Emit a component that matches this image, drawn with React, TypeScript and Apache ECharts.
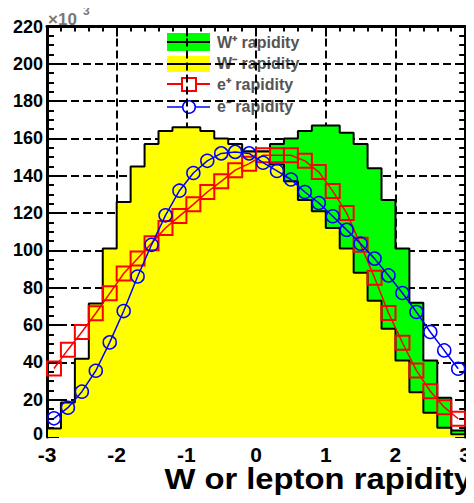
import React, { useEffect, useRef } from "react";
import * as echarts from "echarts";

// bin edges and centres of the rapidity histograms (bin width 0.2)
const binEdges = [
  -3, -2.8, -2.6, -2.4, -2.2, -2, -1.8, -1.6, -1.4, -1.2, -1, -0.8, -0.6, -0.4, -0.2, 0,
  0.2, 0.4, 0.6, 0.8, 1, 1.2, 1.4, 1.6, 1.8, 2, 2.2, 2.4, 2.6, 2.8, 3,
];
const binCenters = [
  -2.9, -2.7, -2.5, -2.3, -2.1, -1.9, -1.7, -1.5, -1.3, -1.1, -0.9, -0.7, -0.5, -0.3, -0.1,
  0.1, 0.3, 0.5, 0.7, 0.9, 1.1, 1.3, 1.5, 1.7, 1.9, 2.1, 2.3, 2.5, 2.7, 2.9,
];

// values in units of 10^3
const wPlus = [
  1.5, 5, 13, 24, 41, 58, 73, 88, 101, 112, 121, 127, 137, 146, 153,
  153, 157, 160, 164, 167, 167, 163, 157, 144, 127, 101, 72, 41, 21, 3.5,
];
const wMinus = [
  4.6, 18.5, 42, 71.6, 101, 126, 145, 157, 164, 166, 166, 164, 160, 157, 153,
  153, 146, 137, 127, 121, 112, 101, 88, 73, 58, 41, 24, 13, 5, 1.5,
];
const ePlus = [
  36.7, 46.8, 56.3, 66.3, 77, 87.6, 95.7, 103.8, 112, 118.4, 124.7, 131.3, 137, 143, 146.5,
  151, 151, 151, 148, 142, 131.8, 120, 103, 85.4, 66.5, 50.5, 35.7, 24.5, 16, 9.8,
];
const eMinus = [
  10, 15.7, 24.3, 35.5, 50.7, 67.5, 86, 103, 118.8, 132, 141.5, 148, 152, 152.8, 152,
  147, 142.6, 138, 131.3, 125.4, 118.3, 111, 103.6, 95.6, 86.6, 77.2, 67, 56.3, 46.4, 36.6,
];

const xTickMin = -3;
const xTickMax = 3;
const yTickMin = 0;
const yTickMax = 220;

const FONT = "'Liberation Sans', Arial, Helvetica, sans-serif";
const GREEN = "#00ff00";
const YELLOW = "#ffff00";
const RED = "#ff0000";
const BLUE = "#0000ff";

function stepPoints(vals: number[]) {
  const pts: number[][] = [[binEdges[0], 0]];
  vals.forEach((v, i) => {
    pts.push([binEdges[i], v]);
    pts.push([binEdges[i + 1], v]);
  });
  pts.push([binEdges[binEdges.length - 1], 0]);
  return pts;
}

function pointsOf(vals: number[]) {
  return vals.map((v, i) => [binCenters[i], v]);
}

export default function App() {
  const ref = useRef<HTMLDivElement>(null);

  useEffect(() => {
    if (!ref.current) return;
    const chart = echarts.init(ref.current, null, { renderer: "svg" });

    const dash = { color: "#000", width: 2, type: [8, 4] as any };
    const tickStyle = { color: "#000", width: 2 };

    const legendX = 167;
    const legendW = 43;
    const textX = 217;
    const legendText = (text: string, y: number) => ({
      type: "text",
      x: textX,
      y,
      style: {
        text,
        fontFamily: FONT,
        fontWeight: "bold",
        fontSize: 16,
        fill: "#555",
        verticalAlign: "middle",
        align: "left",
      },
    });

    const option: any = {
      animation: false,
      backgroundColor: "#fff",
      grid: { left: 47, right: 2, top: 26.5, bottom: 66, containLabel: false },
      xAxis: [
        {
          type: "value",
          position: "bottom",
          min: xTickMin,
          max: xTickMax,
          interval: 1,
          axisLine: { show: false, onZero: false },
          axisTick: { show: false },
          axisLabel: {
            fontFamily: FONT,
            fontWeight: "bold",
            fontSize: 21,
            color: "#000",
            margin: 7,
          },
          splitLine: { show: true, showMinLine: false, showMaxLine: false, lineStyle: dash },
        },
        {
          type: "value",
          position: "top",
          min: xTickMin,
          max: xTickMax,
          interval: 1,
          axisLine: { show: true, onZero: false, lineStyle: { color: "#000", width: 3 } },
          axisTick: { show: true, inside: true, length: 10, lineStyle: tickStyle },
          minorTick: { show: true, splitNumber: 5, length: 5, lineStyle: tickStyle },
          axisLabel: { show: false },
          splitLine: { show: false },
        },
      ],
      yAxis: [
        {
          type: "value",
          position: "left",
          min: yTickMin,
          max: yTickMax,
          interval: 20,
          axisLine: { show: true, onZero: false, lineStyle: { color: "#000", width: 3 } },
          axisTick: { show: true, inside: true, length: 12, lineStyle: tickStyle },
          minorTick: { show: true, splitNumber: 4, length: 7, lineStyle: tickStyle },
          axisLabel: {
            fontFamily: FONT,
            fontWeight: "bold",
            fontSize: 18,
            color: "#000",
            margin: 4,
            formatter: (v: number) => (v === 0 ? "{z|0}" : String(v)),
            rich: {
              z: {
                fontFamily: FONT,
                fontWeight: "bold",
                fontSize: 18,
                color: "#000",
                padding: [0, 0, 6, 0],
              },
            },
          },
          splitLine: { show: true, showMinLine: false, showMaxLine: false, lineStyle: dash },
        },
        {
          type: "value",
          position: "right",
          min: yTickMin,
          max: yTickMax,
          interval: 20,
          axisLine: { show: true, onZero: false, lineStyle: { color: "#000", width: 3 } },
          axisTick: { show: true, inside: true, length: 10, lineStyle: tickStyle },
          minorTick: { show: true, splitNumber: 4, length: 6, lineStyle: tickStyle },
          axisLabel: { show: false },
          splitLine: { show: false },
        },
      ],
      series: [
        {
          name: "W+ rapidity",
          type: "line",
          xAxisIndex: 0,
          yAxisIndex: 0,
          data: stepPoints(wPlus),
          symbol: "none",
          lineStyle: { color: "#000", width: 2 },
          areaStyle: { color: GREEN, opacity: 1 },
          z: 2,
        },
        {
          name: "W- rapidity",
          type: "line",
          xAxisIndex: 0,
          yAxisIndex: 0,
          data: stepPoints(wMinus),
          symbol: "none",
          lineStyle: { color: "#000", width: 2 },
          areaStyle: { color: YELLOW, opacity: 1 },
          z: 3,
        },
        {
          name: "e+ rapidity",
          type: "line",
          xAxisIndex: 0,
          yAxisIndex: 0,
          data: pointsOf(ePlus),
          symbol: "rect",
          symbolSize: 14,
          showAllSymbol: true,
          lineStyle: { color: RED, width: 1.5 },
          itemStyle: { color: "rgba(0,0,0,0)", borderColor: RED, borderWidth: 2 },
          z: 4,
        },
        {
          name: "e- rapidity",
          type: "line",
          xAxisIndex: 0,
          yAxisIndex: 0,
          data: pointsOf(eMinus),
          symbol: "circle",
          symbolSize: 13,
          showAllSymbol: true,
          lineStyle: { color: BLUE, width: 1.5 },
          itemStyle: { color: "rgba(0,0,0,0)", borderColor: BLUE, borderWidth: 1.5 },
          z: 5,
        },
      ],
      graphic: [
        // exponent label
        {
          type: "text",
          x: 48,
          y: 19,
          style: {
            text: "×10",
            fontFamily: FONT,
            fontWeight: "bold",
            fontSize: 17,
            fill: "#777",
            verticalAlign: "middle",
          },
        },
        {
          type: "text",
          x: 83,
          y: 11,
          style: {
            text: "3",
            fontFamily: FONT,
            fontWeight: "bold",
            fontSize: 12,
            fill: "#777",
            verticalAlign: "middle",
          },
        },
        // legend
        {
          type: "rect",
          shape: { x: legendX, y: 33, width: legendW, height: 18 },
          style: { fill: GREEN },
        },
        {
          type: "line",
          shape: { x1: legendX, y1: 42, x2: legendX + legendW, y2: 42 },
          style: { stroke: "#000", lineWidth: 2 },
        },
        {
          type: "rect",
          shape: { x: legendX, y: 56, width: legendW, height: 16 },
          style: { fill: YELLOW },
        },
        {
          type: "line",
          shape: { x1: legendX, y1: 64, x2: legendX + legendW, y2: 64 },
          style: { stroke: "#000", lineWidth: 2 },
        },
        {
          type: "line",
          shape: { x1: legendX, y1: 84, x2: legendX + legendW, y2: 84 },
          style: { stroke: RED, lineWidth: 2 },
        },
        {
          type: "rect",
          shape: { x: 182, y: 78, width: 14, height: 13 },
          style: { fill: "#fff", stroke: RED, lineWidth: 2 },
        },
        {
          type: "line",
          shape: { x1: legendX, y1: 107, x2: legendX + legendW, y2: 107 },
          style: { stroke: BLUE, lineWidth: 1.5 },
        },
        {
          type: "circle",
          shape: { cx: 189, cy: 107, r: 6.3 },
          style: { fill: "#fff", stroke: BLUE, lineWidth: 1.5 },
        },
        legendText("W⁺ rapidity", 42),
        legendText("W⁻ rapidity", 63.5),
        legendText("e⁺ rapidity", 84.5),
        legendText("e⁻ rapidity", 106),
        // x-axis title
        {
          type: "text",
          x: 472,
          y: 479,
          scaleX: 1.13,
          style: {
            text: "W or lepton rapidity",
            fontFamily: FONT,
            fontWeight: "bold",
            fontSize: 29,
            fill: "#000",
            align: "right",
            verticalAlign: "middle",
          },
        },
      ],
    };

    chart.setOption(option);
    return () => chart.dispose();
  }, []);

  return <div ref={ref} style={{ width: 474, height: 503, margin: -8 }} />;
}
